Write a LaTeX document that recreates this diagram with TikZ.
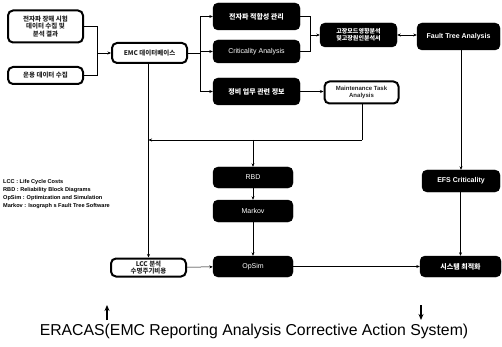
\documentclass[tikz,border=0pt]{standalone}
\usepackage{fontspec}
\setmainfont{Liberation Sans}
\newfontfamily\kr{Noto Sans CJK KR}
\usetikzlibrary{arrows.meta}
\begin{document}
\begin{tikzpicture}[x=1pt,y=-1pt,
  blk/.style={draw=black,fill=black,rounded corners=5pt,text=white,minimum width=#1,inner sep=1pt,align=center,font=\fontsize{7}{8}\selectfont},
  wht/.style={draw=black,line width=2pt,fill=white,rounded corners=5pt,text=black!85,minimum width=#1,inner sep=1pt,align=center,font=\kr\bfseries\fontsize{6.5}{7.5}\selectfont},
  ln/.style={draw=black,line width=0.5pt},
  arr/.style={ln,-{Stealth[length=3.5pt,width=3pt]}},
  barr/.style={ln,{Stealth[length=3.5pt,width=3pt]}-{Stealth[length=3.5pt,width=3pt]}},
  big/.style={line width=1.2pt,-{Stealth[length=6pt,width=5pt]}}]
\useasboundingbox (0,0) rectangle (502,347);
% left column
\node[wht=75pt,minimum height=32pt] (tl1) at (45.5,26.5) {전자파 장해 시험\\데이터 수집 및\\분석 결과};
\node[wht=75pt,minimum height=17pt] (tl2) at (45.5,75.5) {운용 데이터 수집};
\node[wht=75pt,minimum height=20pt] (cl) at (149.5,53) {EMC 데이터베이스};
% upper middle
\node[blk=87pt,minimum height=27pt,font=\kr\bfseries\fontsize{7}{8}\selectfont] (em) at (256.5,16.5) {전자파 적합성 관리};
\node[blk=87pt,minimum height=23pt] (crit) at (256.5,51.5) {Criticality Analysis};
\node[blk=87pt,minimum height=27pt,font=\kr\bfseries\fontsize{7}{8}\selectfont] (mt) at (256.5,91.5) {정비 업무 관련 정보};
\node[blk=77pt,minimum height=24pt,font=\kr\bfseries\fontsize{6}{7}\selectfont] (fm) at (358.5,35) {고장모드영향분석\\및고장원인분석서};
\node[blk=83pt,minimum height=27pt,font=\bfseries\fontsize{7}{8}\selectfont] (fta) at (458.5,36.5) {Fault Tree Analysis};
\node[wht=74pt,minimum height=22pt,font=\bfseries\fontsize{6}{7}\selectfont] (mta) at (361.5,92.5) {Maintenance Task\\Analysis};
% lower middle
\node[blk=80pt,minimum height=21pt] (rbd) at (253,177.5) {RBD};
\node[blk=80pt,minimum height=22pt] (mk) at (253,211) {Markov};
\node[blk=80pt,minimum height=21pt] (op) at (253,266.5) {OpSim};
\node[wht=75pt,minimum height=18pt] (lcc) at (148.5,267.5) {LCC 분석\\수명주기비용};
\node[blk=78pt,minimum height=22pt,font=\bfseries\fontsize{7}{8}\selectfont] (efs) at (461,181) {EFS Criticality};
\node[blk=81pt,minimum height=21pt,font=\kr\bfseries\fontsize{7}{8}\selectfont] (sys) at (460.5,266.5) {시스템 최적화};
% connectors
\coordinate (j1) at (97,53);
\draw[ln] (tl1.east) -- (tl1.east -| j1) -- (tl2.east -| j1) -- (tl2.east);
\draw[arr] (j1) -- (cl.west);
\coordinate (j2) at (200,53);
\draw[ln] (cl.east) -- (j2);
\draw[ln] (em.west -| j2) -- (mt.west -| j2);
\draw[arr] (em.west -| j2) -- (em.west);
\draw[arr] (crit.west -| j2) -- (crit.west);
\draw[arr] (mt.west -| j2) -- (mt.west);
\coordinate (j3) at (310,35);
\draw[ln] (em.east) -- (em.east -| j3) -- (crit.east -| j3) -- (crit.east);
\draw[arr] (j3) -- (fm.west);
\draw[barr] (fm.east) -- (fta.west |- fm.east);
\draw[arr] (mt.east) -- (mta.west |- mt.east);
\coordinate (j4) at (362,140);
\coordinate (j5) at (148.5,140);
\draw[ln] (mta.south -| j4) -- (j4);
\draw[arr] (j4) -- (j5);
\draw[arr] (rbd.north |- j4) -- (rbd.north);
\draw[arr] (cl.south -| lcc.north) -- (lcc.north);
\draw[arr] (rbd) -- (mk);
\draw[arr] (mk) -- (op);
\draw[arr] (lcc) -- (op);
\draw[arr] (op) -- (sys);
\draw[arr] (fta.south -| efs.north) -- (efs.north);
\draw[arr] (efs.south -| sys.north) -- (sys.north);
% legend
\node[anchor=north west,inner sep=0pt,align=left,font=\bfseries\fontsize{5.6}{8.2}\selectfont] (leg) at (3,179)
 {LCC : Life Cycle Costs\\RBD : Reliability Block Diagrams\\OpSim : Optimization and Simulation\\Markov : Isograph s Fault Tree Software};
% ERACAS
\coordinate (au) at (107,305);
\coordinate (ad) at (421,320);
\draw[big] (107,320) -- (au);
\draw[big] (421,305) -- (ad);
\node[font=\fontsize{15.8}{18}\selectfont,inner sep=0pt] (er) at (254,331) {ERACAS(EMC Reporting Analysis Corrective Action System)};
\end{tikzpicture}
\end{document}
